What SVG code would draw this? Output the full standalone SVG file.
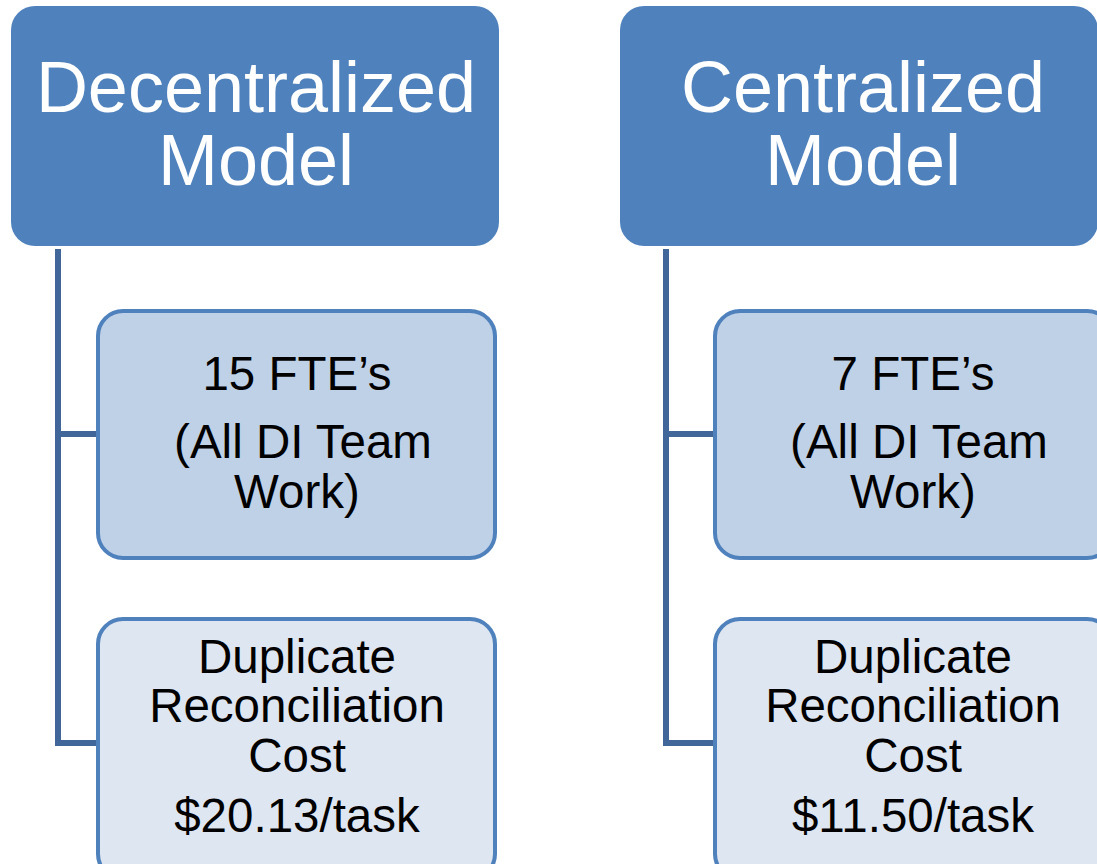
<svg xmlns="http://www.w3.org/2000/svg" width="1097" height="864" viewBox="0 0 1097 864">
<style>
.hdr{fill:#4F81BD}
.c1{fill:#BFD1E7;stroke:#4F81BD;stroke-width:4}
.c2{fill:#DEE6F2;stroke:#4F81BD;stroke-width:4}
.conn{fill:none;stroke:#41679A;stroke-width:6}
text{font-family:"Liberation Sans",Arial,sans-serif;text-anchor:middle}
.ht{fill:#FFFFFF;font-size:72px}
.ct{fill:#000000;font-size:47.5px}
</style>
<rect width="1097" height="864" fill="#FFFFFF"/>
<g id="connectors">
<path class="conn" d="M58 249 V743 H100 M58 434 H100"/>
<path class="conn" d="M666 249 V743 H717 M666 434 H717"/>
</g>
<g id="decentralized">
<rect class="hdr" x="11" y="6" width="488" height="240" rx="24"/>
<text class="ht" x="256" y="112">Decentralized</text>
<text class="ht" x="256" y="185">Model</text>
</g>
<g id="centralized">
<rect class="hdr" x="620" y="6" width="478" height="240" rx="24"/>
<text class="ht" x="863" y="112">Centralized</text>
<text class="ht" x="863" y="185">Model</text>
</g>
<g id="dec-fte">
<rect class="c1" x="98" y="311" width="397" height="247" rx="25"/>
<text class="ct" x="297" y="390">15 FTE’s</text>
<text class="ct" x="303" y="458">(All DI Team</text>
<text class="ct" x="297" y="508">Work)</text>
</g>
<g id="dec-cost">
<rect class="c2" x="98" y="619" width="397" height="260" rx="25"/>
<text class="ct" x="297" y="673">Duplicate</text>
<text class="ct" x="297" y="722">Reconciliation</text>
<text class="ct" x="297" y="772">Cost</text>
<text class="ct" x="297" y="832">$20.13/task</text>
</g>
<g id="cen-fte">
<rect class="c1" x="715" y="311" width="397" height="247" rx="25"/>
<text class="ct" x="913" y="390">7 FTE’s</text>
<text class="ct" x="919" y="458">(All DI Team</text>
<text class="ct" x="913" y="508">Work)</text>
</g>
<g id="cen-cost">
<rect class="c2" x="715" y="619" width="397" height="260" rx="25"/>
<text class="ct" x="913" y="673">Duplicate</text>
<text class="ct" x="913" y="722">Reconciliation</text>
<text class="ct" x="913" y="772">Cost</text>
<text class="ct" x="913" y="832">$11.50/task</text>
</g>
</svg>
